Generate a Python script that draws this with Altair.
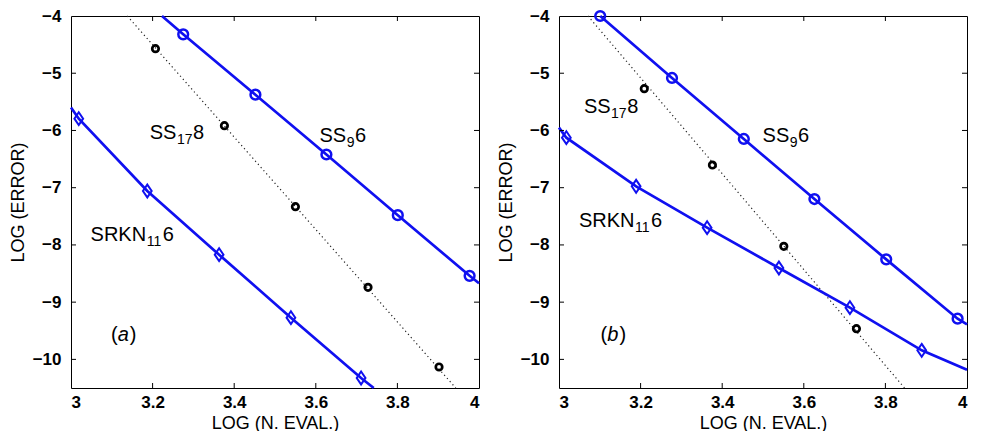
import altair as alt
import pandas as pd

W, H = 408, 372
XDOM = [3.0, 4.0]
YDOM = [-10.5, -4.0]
X_TICKS = [3.0, 3.2, 3.4, 3.6, 3.8, 4.0]
Y_TICKS = [-10, -9, -8, -7, -6, -5, -4]
X_INNER = [3.2, 3.4, 3.6, 3.8]
Y_INNER = [-10, -9, -8, -7, -6, -5]

# ---------------- panel (a) ----------------
a_ss9_x = [3.275, 3.452, 3.626, 3.801, 3.977]
a_ss9_y = [-4.32, -5.375, -6.42, -7.48, -8.54]
a_ss9_line_x = [3.223, 3.275, 3.452, 3.626, 3.801, 3.977, 4.0]
a_ss9_line_y = [-4.0, -4.32, -5.375, -6.42, -7.48, -8.54, -8.67]

a_srkn_x = [3.019, 3.187, 3.363, 3.539, 3.711]
a_srkn_y = [-5.794, -7.058, -8.170, -9.271, -10.325]
a_srkn_line_x = [3.0, 3.019, 3.187, 3.363, 3.539, 3.711, 3.742]
a_srkn_line_y = [-5.60, -5.794, -7.058, -8.170, -9.271, -10.325, -10.5]

a_ss17_x = [3.207, 3.376, 3.550, 3.728, 3.902]
a_ss17_y = [-4.571, -5.916, -7.332, -8.741, -10.133]
a_dot_x = [3.138, 3.943]
a_dot_y = [-4.0, -10.5]

a_lab_x = [3.193, 3.609, 3.048]
a_lab_y = [-6.154, -6.196, -7.931]
a_tag = ["(", "a", ")"]
a_tag_x, a_tag_y = 3.098, -9.674

# ---------------- panel (b) ----------------
b_ss9_x = [3.101, 3.277, 3.453, 3.626, 3.802, 3.977]
b_ss9_y = [-4.0, -5.083, -6.149, -7.198, -8.252, -9.289]
b_ss9_line_x = [3.101, 3.277, 3.453, 3.626, 3.802, 3.977, 4.0]
b_ss9_line_y = [-4.0, -5.083, -6.149, -7.198, -8.252, -9.289, -9.39]

b_srkn_x = [3.018, 3.189, 3.363, 3.539, 3.713, 3.889]
b_srkn_y = [-6.126, -6.976, -7.698, -8.403, -9.096, -9.842]
b_srkn_line_x = [3.0, 3.018, 3.189, 3.363, 3.539, 3.713, 3.889, 4.0]
b_srkn_line_y = [-5.95, -6.126, -6.976, -7.698, -8.403, -9.096, -9.842, -10.18]

b_ss17_x = [3.209, 3.376, 3.551, 3.729]
b_ss17_y = [-5.270, -6.604, -8.025, -9.463]
b_dot_x = [3.071, 3.847]
b_dot_y = [-4.0, -10.5]

b_lab_x = [3.061, 3.499, 3.049]
b_lab_y = [-5.700, -6.196, -7.681]
b_tag = ["(", "b", ")"]
b_tag_x, b_tag_y = 3.102, -9.674

lab_main = ["SS", "SS", "SRKN"]
lab_sub = ["17", "9", "11"]
lab_tail = ["8", "6", "6"]

BLUE = "#1010f0"
FONT = "Liberation Sans"
MAIN_FS = 20
SUB_FS = 14

# Helvetica advance widths (per 1000 em)
ADV = {"S": 667, "R": 722, "K": 667, "N": 722, "(": 333, ")": 333,
       "a": 556, "b": 556}
for d in "0123456789":
    ADV[d] = 556


def tw(s, fs):
    return sum(ADV.get(c, 556) for c in s) * fs / 1000.0


def panel(ss9_x, ss9_y, ss9_lx, ss9_ly, srkn_x, srkn_y, srkn_lx, srkn_ly,
          ss17_x, ss17_y, dot_x, dot_y, lab_x, lab_y, tag, tag_x, tag_y):
    xs = alt.Scale(domain=XDOM, nice=False, zero=False)
    ys = alt.Scale(domain=YDOM, nice=False, zero=False)
    xaxis = alt.Axis(values=X_TICKS, format="~g", title="LOG (N. EVAL.)",
                     ticks=False, grid=False, domain=False, labelPadding=6,
                     titlePadding=4)
    yaxis = alt.Axis(values=Y_TICKS, format="d", title="LOG (ERROR)",
                     ticks=False, grid=False, domain=False, labelPadding=10,
                     titlePadding=5)

    def X():
        return alt.X("x:Q", scale=xs, axis=xaxis)

    def Y():
        return alt.Y("y:Q", scale=ys, axis=yaxis)

    layers = []
    # dotted reference line
    layers.append(
        alt.Chart(pd.DataFrame({"x": dot_x, "y": dot_y}))
        .mark_line(color="#222222", strokeWidth=1.2, strokeDash=[1.2, 3])
        .encode(x=X(), y=Y())
    )
    # blue lines
    layers.append(
        alt.Chart(pd.DataFrame({"x": ss9_lx, "y": ss9_ly}))
        .mark_line(color=BLUE, strokeWidth=2.7)
        .encode(x=X(), y=Y())
    )
    layers.append(
        alt.Chart(pd.DataFrame({"x": srkn_lx, "y": srkn_ly}))
        .mark_line(color=BLUE, strokeWidth=2.7)
        .encode(x=X(), y=Y())
    )
    # markers
    layers.append(
        alt.Chart(pd.DataFrame({"x": ss9_x, "y": ss9_y}))
        .mark_point(shape="circle", filled=False, color=BLUE, size=95,
                    strokeWidth=2.5, opacity=1)
        .encode(x=X(), y=Y())
    )
    layers.append(
        alt.Chart(pd.DataFrame({"x": srkn_x, "y": srkn_y}))
        .mark_point(shape="M0,-1L0.68,0L0,1L-0.68,0Z", filled=False,
                    color=BLUE, size=165, strokeWidth=2.0, opacity=1)
        .encode(x=X(), y=Y())
    )
    layers.append(
        alt.Chart(pd.DataFrame({"x": ss17_x, "y": ss17_y}))
        .mark_point(shape="circle", filled=False, color="black", size=42,
                    strokeWidth=2.7, opacity=1)
        .encode(x=X(), y=Y())
    )
    # inward ticks on all four sides
    ydf = pd.DataFrame({"y": Y_INNER})
    xdf = pd.DataFrame({"x": X_INNER})
    layers.append(alt.Chart(ydf).mark_rule(color="black", strokeWidth=1)
                  .encode(y=Y(), x=alt.value(0), x2=alt.value(5)))
    layers.append(alt.Chart(ydf).mark_rule(color="black", strokeWidth=1)
                  .encode(y=Y(), x=alt.value(W - 5), x2=alt.value(W)))
    layers.append(alt.Chart(xdf).mark_rule(color="black", strokeWidth=1)
                  .encode(x=X(), y=alt.value(H), y2=alt.value(H - 5)))
    layers.append(alt.Chart(xdf).mark_rule(color="black", strokeWidth=1)
                  .encode(x=X(), y=alt.value(0), y2=alt.value(5)))

    # series labels with subscripts
    for i in range(len(lab_main)):
        d = pd.DataFrame({"x": [lab_x[i]], "y": [lab_y[i]]})
        w_main = tw(lab_main[i], MAIN_FS)
        w_sub = tw(lab_sub[i], SUB_FS)
        parts = [
            (lab_main[i], MAIN_FS, 0, 0),
            (lab_sub[i], SUB_FS, w_main + 0.5, 5),
            (lab_tail[i], MAIN_FS, w_main + w_sub + 1, 0),
        ]
        for txt, fs, dx, dy in parts:
            layers.append(
                alt.Chart(d).mark_text(text=txt, font=FONT, fontSize=fs,
                                       align="left", baseline="alphabetic",
                                       dx=dx, dy=dy, color="black")
                .encode(x=X(), y=Y())
            )
    # panel tag "(a)" / "(b)"
    d = pd.DataFrame({"x": [tag_x], "y": [tag_y]})
    off = 0.0
    for j, txt in enumerate(tag):
        layers.append(
            alt.Chart(d).mark_text(text=txt, font=FONT, fontSize=MAIN_FS,
                                   align="left", baseline="alphabetic",
                                   dx=off, color="black",
                                   fontStyle="italic" if j == 1 else "normal")
            .encode(x=X(), y=Y())
        )
        off += tw(txt, MAIN_FS) + (1 if j == 1 else 0)

    return alt.layer(*layers).properties(width=W, height=H)


pa = panel(a_ss9_x, a_ss9_y, a_ss9_line_x, a_ss9_line_y,
           a_srkn_x, a_srkn_y, a_srkn_line_x, a_srkn_line_y,
           a_ss17_x, a_ss17_y, a_dot_x, a_dot_y,
           a_lab_x, a_lab_y, a_tag, a_tag_x, a_tag_y)
pb = panel(b_ss9_x, b_ss9_y, b_ss9_line_x, b_ss9_line_y,
           b_srkn_x, b_srkn_y, b_srkn_line_x, b_srkn_line_y,
           b_ss17_x, b_ss17_y, b_dot_x, b_dot_y,
           b_lab_x, b_lab_y, b_tag, b_tag_x, b_tag_y)

chart = (
    alt.hconcat(pa, pb, spacing=11)
    .properties(padding={"left": 0, "top": -3, "right": 0, "bottom": -2})
    .configure_view(stroke="black", strokeWidth=1)
    .configure_axis(labelFont=FONT, labelFontSize=17, labelFontWeight="bold",
                    labelColor="black", titleFont=FONT, titleFontSize=18,
                    titleFontWeight="normal", titleColor="black")
)

chart.save("out.html", embed_options={"renderer": "svg", "actions": False})
